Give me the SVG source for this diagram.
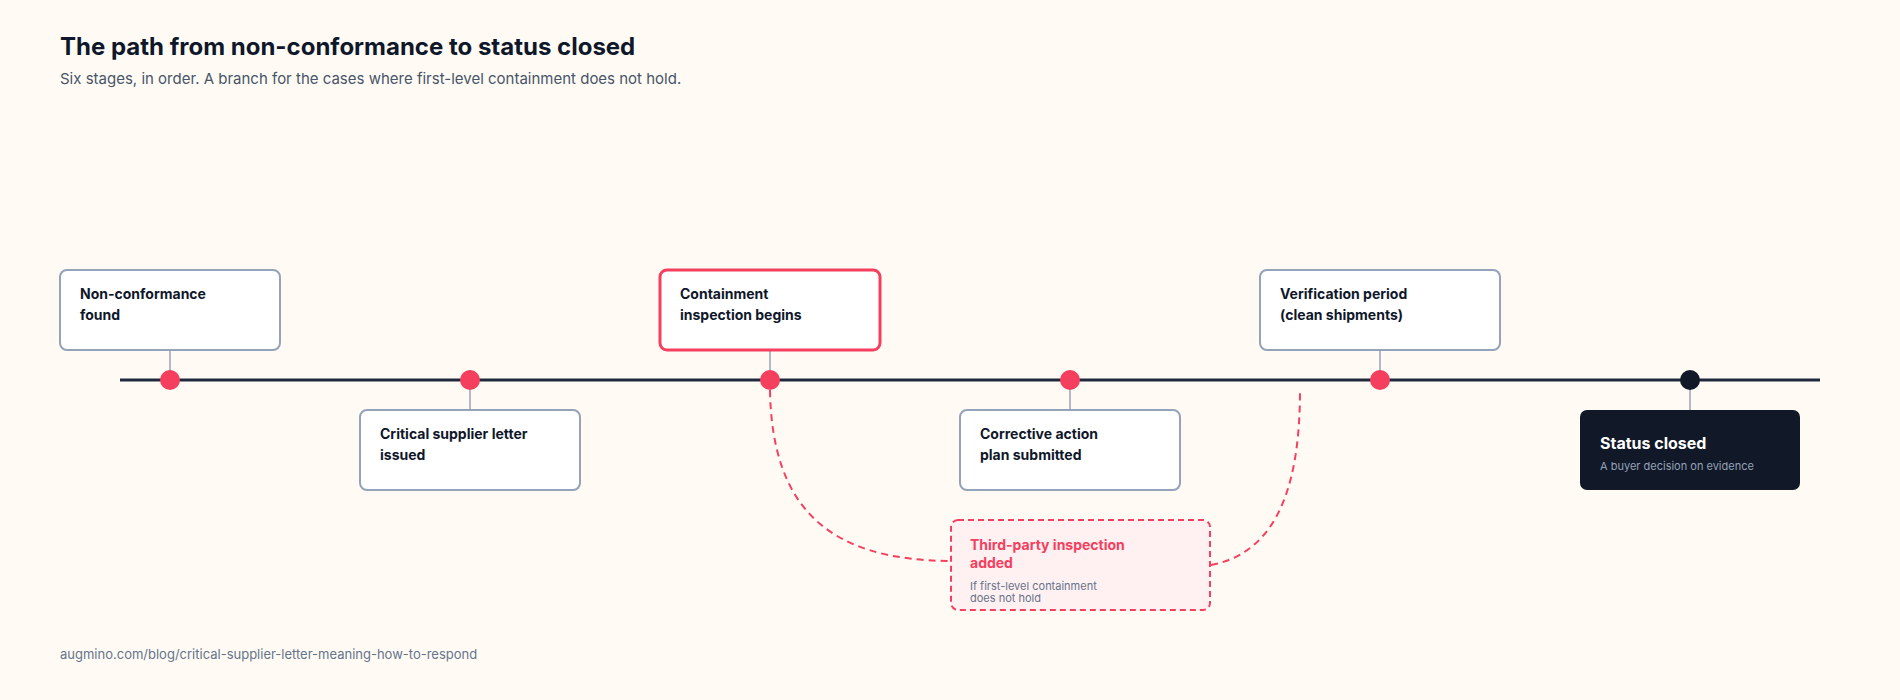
<svg xmlns="http://www.w3.org/2000/svg" width="1900" height="700" viewBox="0 0 1900 700">
<style>
text{font-family:Inter,"Noto Sans",sans-serif}
.box{fill:#fff;stroke:#94a3b8;stroke-width:2}
.lbl{font-size:14px;font-weight:700;fill:#0f172a}
.stem{stroke:#94a3b8;stroke-width:1.5}
.dot{fill:#f43f5e}
.br{fill:none;stroke:#f43f5e;stroke-width:2;stroke-dasharray:7 5}
</style>
<rect width="1900" height="700" fill="#fffbf4"/>
<text x="60" y="55" font-size="24" font-weight="700" fill="#0f172a">The path from non-conformance to status closed</text>
<text x="60" y="84" font-size="15" fill="#475569">Six stages, in order. A branch for the cases where first-level containment does not hold.</text>
<g id="connectors">
<line x1="120" y1="380" x2="1820" y2="380" stroke="#1e293b" stroke-width="3"/>
<line class="stem" x1="170" y1="350" x2="170" y2="380"/>
<line class="stem" x1="470" y1="380" x2="470" y2="410"/>
<line class="stem" x1="770" y1="350" x2="770" y2="380"/>
<line class="stem" x1="1070" y1="380" x2="1070" y2="410"/>
<line class="stem" x1="1380" y1="350" x2="1380" y2="380"/>
<line class="stem" x1="1690" y1="380" x2="1690" y2="410"/>
<path class="br" d="M770 390 C772 510 830 560 950 561"/>
<path class="br" d="M1211 565 C1280 552 1300 480 1300 390"/>
<circle class="dot" cx="170" cy="380" r="10"/>
<circle class="dot" cx="470" cy="380" r="10"/>
<circle class="dot" cx="770" cy="380" r="10"/>
<circle class="dot" cx="1070" cy="380" r="10"/>
<circle class="dot" cx="1380" cy="380" r="10"/>
<circle cx="1690" cy="380" r="10" fill="#111827"/>
</g>
<g id="n1"><rect class="box" x="60" y="270" width="220" height="80" rx="7"/><text class="lbl" x="80" y="299">Non-conformance</text><text class="lbl" x="80" y="320">found</text></g>
<g id="n2"><rect class="box" x="360" y="410" width="220" height="80" rx="7"/><text class="lbl" x="380" y="439">Critical supplier letter</text><text class="lbl" x="380" y="460">issued</text></g>
<g id="n3"><rect x="660" y="270" width="220" height="80" rx="7" fill="#fff" stroke="#f43f5e" stroke-width="3"/><text class="lbl" x="680" y="299">Containment</text><text class="lbl" x="680" y="320">inspection begins</text></g>
<g id="n4"><rect class="box" x="960" y="410" width="220" height="80" rx="7"/><text class="lbl" x="980" y="439">Corrective action</text><text class="lbl" x="980" y="460">plan submitted</text></g>
<g id="n5"><rect class="box" x="1260" y="270" width="240" height="80" rx="7"/><text class="lbl" x="1280" y="299">Verification period</text><text class="lbl" x="1280" y="320">(clean shipments)</text></g>
<g id="n6"><rect x="1580" y="410" width="220" height="80" rx="7" fill="#111827"/><text x="1600" y="449" font-size="16" font-weight="700" fill="#fff">Status closed</text><text x="1600" y="470" font-size="11" fill="#94a3b8">A buyer decision on evidence</text></g>
<g id="n7"><rect x="951" y="520" width="259" height="90" rx="7" fill="#fff0f2" stroke="#f43f5e" stroke-width="2" stroke-dasharray="6 4"/><text x="970" y="550" font-size="14" font-weight="700" fill="#f43f5e">Third-party inspection</text><text x="970" y="568" font-size="14" font-weight="700" fill="#f43f5e">added</text><text x="970" y="590" font-size="11" fill="#64748b">If first-level containment</text><text x="970" y="602" font-size="11" fill="#64748b">does not hold</text></g>
<text x="60" y="659" font-size="13" fill="#64748b">augmino.com/blog/critical-supplier-letter-meaning-how-to-respond</text>
</svg>
